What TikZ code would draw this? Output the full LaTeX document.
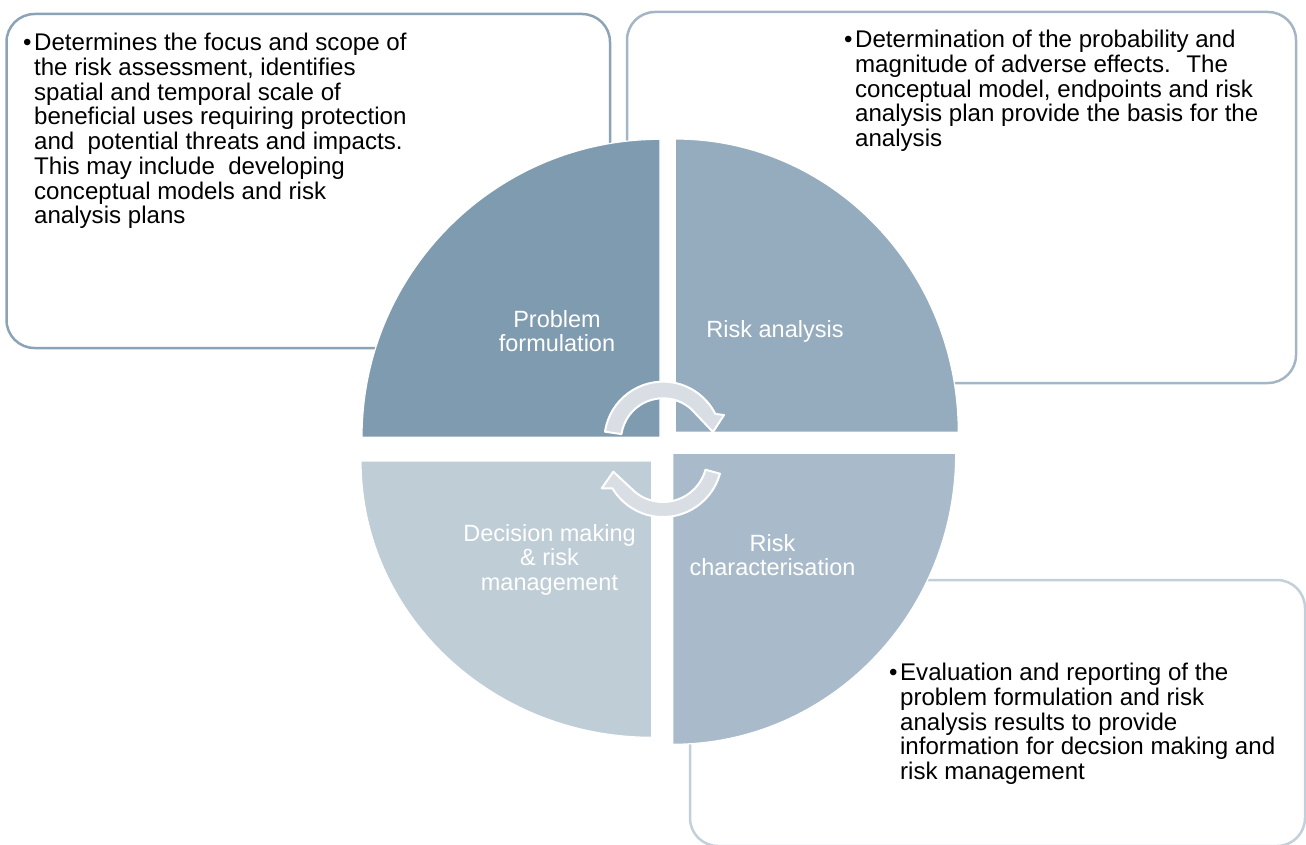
\documentclass[tikz,border=0pt]{standalone}
\usepackage{fontspec}
\setmainfont{Liberation Sans}
\newcommand\diagfont{\fontsize{23.5}{24.4}\selectfont}
\newcommand\descfont{\fontsize{24.1}{24.4}\selectfont}
\definecolor{qtl}{HTML}{7F9BB0}
\definecolor{qtr}{HTML}{95ABBE}
\definecolor{qbr}{HTML}{A9BBCA}
\definecolor{qbl}{HTML}{BFCDD7}
\definecolor{tlbox}{HTML}{8CA3B6}
\definecolor{trbox}{HTML}{A4B6C5}
\definecolor{brbox}{HTML}{C3CFD9}
\definecolor{arrowfill}{HTML}{D9DEE5}
\begin{document}
\begin{tikzpicture}[x=1pt,y=-1pt,
  quad/.style={draw=white, line width=1.2pt},
  infobox/.style={line width=2.5pt, rounded corners=28pt},
  cyclearrow/.style={fill=arrowfill, draw=white, line width=2pt, line join=round},
  bodytext/.style={inner sep=0pt, anchor=base west, font=\descfont, text=black},
  quadlabel/.style={inner sep=0pt, anchor=base, font=\diagfont, text=white}]
\useasboundingbox (0,0) rectangle (1306,845);

% description boxes
\draw[infobox, draw=tlbox] (6.5,14) rectangle (610,348);
\draw[infobox, draw=trbox] (627,12) rectangle (1296,383);
\draw[infobox, draw=brbox] (690,580) rectangle (1305,846);

% quadrants
\fill[quad, fill=qtl] (660,437.3) -- (362,437.3) arc[start angle=180, end angle=270, x radius=298, y radius=298] -- cycle;
\fill[quad, fill=qtr] (675.3,432.3) -- (675.3,139) arc[start angle=270, end angle=360, x radius=283, y radius=293.3] -- cycle;
\fill[quad, fill=qbr] (672.7,453.3) -- (955.7,453.3) arc[start angle=0, end angle=90, x radius=283, y radius=291] -- cycle;
\fill[quad, fill=qbl] (651.7,461) -- (651.7,737.3) arc[start angle=90, end angle=180, x radius=290.7, y radius=276.3] -- cycle;

% quadrant labels
\node[quadlabel] (lpf) at (557,327.5) {\begin{tabular}[t]{@{}c@{}}Problem\\formulation\end{tabular}};
\node[quadlabel] (lra) at (775,337.5) {Risk analysis};
\node[quadlabel] (lrc) at (772.5,551.5) {\begin{tabular}[t]{@{}c@{}}Risk\\characterisation\end{tabular}};
\node[quadlabel] (ldm) at (549.5,541.5) {\begin{tabular}[t]{@{}c@{}}Decision making\\\& risk\\management\end{tabular}};

% cycle arrows
\path[cyclearrow] (605,431.7) arc[start angle=188.4, end angle=333.3, radius=58.6]
  -- (724,415) -- (713,432) -- (695.4,413.5)
  arc[start angle=320.4, end angle=188.4, radius=42] -- cycle;
\path[cyclearrow] (719.9,473.7) arc[start angle=15.4, end angle=149.1, radius=59]
  -- (601.7,488.3) -- (613.3,471.7) -- (631.1,488.3)
  arc[start angle=136.5, end angle=15.4, radius=44] -- cycle;

% descriptions
\node[bodytext] (tpf) at (23,50.5) {\begin{tabular}[t]{@{}l@{\hspace{2.5pt}}l@{}}
•&Determines the focus and scope of\\
&the risk assessment, identifies\\
&spatial and temporal scale of\\
&beneficial uses requiring protection\\
&and~ potential threats and impacts.\\
&This may include~ developing\\
&conceptual models and risk\\
&analysis plans\end{tabular}};
\node[bodytext] (tra) at (844,47.5) {\begin{tabular}[t]{@{}l@{\hspace{2.5pt}}l@{}}
•&Determination of the probability and\\
&magnitude of adverse effects.~ The\\
&conceptual model, endpoints and risk\\
&analysis plan provide the basis for the\\
&analysis\end{tabular}};
\node[bodytext] (trc) at (889,680.5) {\begin{tabular}[t]{@{}l@{\hspace{2.5pt}}l@{}}
•&Evaluation and reporting of the\\
&problem formulation and risk\\
&analysis results to provide\\
&information for decsion making and\\
&risk management\end{tabular}};
\end{tikzpicture}
\end{document}
